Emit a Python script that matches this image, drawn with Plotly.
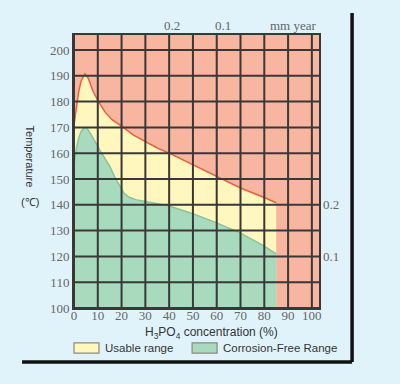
import plotly.graph_objects as go

# ---- data ----
usable_x = [0, 1, 2, 3, 4.6, 6, 8, 10, 13, 16, 20, 25, 30, 35, 40, 50, 60, 70, 80, 85]
usable_y = [171, 178.5, 184, 188, 190.7, 189, 184, 180.5, 176, 173, 170.5, 167, 164.5, 162, 160, 155.5, 150.8, 146.5, 142.8, 140.8]

free_x = [0, 1, 2, 3, 4, 5.3, 7, 9, 11, 13, 15, 17, 19, 21, 23, 26, 30, 40, 50, 60, 70, 80, 85]
free_y = [155, 162, 166, 168.5, 169.6, 170, 167.5, 164, 161, 158, 155, 151, 147.5, 144.5, 143, 142, 141.3, 139.5, 136.5, 133, 129, 124, 121]

x_ticks = [0, 10, 20, 30, 40, 50, 60, 70, 80, 90, 100]
y_ticks = [100, 110, 120, 130, 140, 150, 160, 170, 180, 190, 200]

top_rate_labels = ["0.2", "0.1"]
top_rate_x = [41, 62.5]
right_rate_labels = ["0.2", "0.1"]
right_rate_y = [140, 120]

legend_names = ["Usable range", "Corrosion-Free Range"]

BG = "#e0f3fb"
SALMON = "#f8b5a0"
YELLOW = "#fff7bd"
GREEN = "#a8dbbd"
GRID = "#383838"
SERIF = "Liberation Serif, Times New Roman, serif"
SANS = "Liberation Sans, Arial, sans-serif"

fig = go.Figure()
fig.add_trace(go.Scatter(
    x=usable_x, y=usable_y, mode="lines", fill="tozeroy",
    fillcolor=YELLOW, line=dict(color="#e8603c", width=1.5),
    name=legend_names[0], showlegend=False))
fig.add_trace(go.Scatter(
    x=free_x, y=free_y, mode="lines", fill="tozeroy",
    fillcolor=GREEN, line=dict(color="#8cc29a", width=1.5),
    name=legend_names[1], showlegend=False))

shapes = []
for t in x_ticks:
    shapes.append(dict(type="line", xref="x", yref="paper", x0=t, x1=t, y0=0, y1=1,
                       line=dict(color=GRID, width=2), layer="above"))
for t in y_ticks:
    shapes.append(dict(type="line", xref="paper", yref="y", x0=0, x1=1, y0=t, y1=t,
                       line=dict(color=GRID, width=2), layer="above"))
# outer frame (decorative)
shapes.append(dict(type="line", xref="paper", yref="paper", x0=1.135, x1=1.135, y0=-0.198, y1=1.081,
                   line=dict(color="#111111", width=3.5)))
shapes.append(dict(type="line", xref="paper", yref="paper", x0=-0.212, x1=1.135, y0=-0.198, y1=-0.198,
                   line=dict(color="#111111", width=3.5)))

annotations = []
for lab, xv in zip(top_rate_labels, top_rate_x):
    annotations.append(dict(text=lab, x=xv, xref="x", y=1.033, yref="paper", showarrow=False,
                            font=dict(family=SERIF, size=13, color="#666666"), yanchor="middle"))
annotations.append(dict(text="mm year", x=1.0, xref="paper", y=1.033, yref="paper", showarrow=False,
                        xanchor="right", yanchor="middle",
                        font=dict(family=SERIF, size=13, color="#666666")))
for lab, yv in zip(right_rate_labels, right_rate_y):
    annotations.append(dict(text=lab, x=1.01, xref="paper", y=yv, yref="y", showarrow=False,
                            xanchor="left", yanchor="middle",
                            font=dict(family=SERIF, size=13, color="#666666")))
annotations.append(dict(text="Temperature", x=-0.18, xref="paper", y=0.555, yref="paper", showarrow=False,
                        textangle=90, xanchor="center", yanchor="middle",
                        font=dict(family=SANS, size=11, color="#333333")))
annotations.append(dict(text="(℃)", x=-0.18, xref="paper", y=0.39, yref="paper", showarrow=False,
                        xanchor="center", yanchor="middle",
                        font=dict(family=SANS, size=11, color="#333333")))
annotations.append(dict(text="H<sub>3</sub>PO<sub>4</sub> concentration (%)", x=0.56, xref="paper",
                        y=-0.092, yref="paper", showarrow=False, xanchor="center", yanchor="middle",
                        font=dict(family=SANS, size=12, color="#333333")))

# manual legend (swatches + labels)
legend_colors = [YELLOW, GREEN]
legend_x0 = [0.0, 0.482]
sw_w = 0.102
for name, col, lx in zip(legend_names, legend_colors, legend_x0):
    shapes.append(dict(type="rect", xref="paper", yref="paper", x0=lx, x1=lx + sw_w,
                       y0=-0.165, y1=-0.128, fillcolor=col, line=dict(color="#8a8a7a", width=1.2)))
    annotations.append(dict(text=name, x=lx + sw_w + 0.018, xref="paper", y=-0.147, yref="paper",
                            showarrow=False, xanchor="left", yanchor="middle",
                            font=dict(family=SANS, size=11.5, color="#333333")))

fig.update_layout(
    width=400, height=384,
    margin=dict(l=74, r=81, t=35, b=76, autoexpand=False),
    paper_bgcolor=BG, plot_bgcolor=SALMON,
    shapes=shapes, annotations=annotations,
    showlegend=False,
    xaxis=dict(range=[0, 103], tickvals=x_ticks, showgrid=False, zeroline=False,
               showline=True, mirror=True, linecolor=GRID, linewidth=2, ticks="",
               automargin=False, ticklabelstandoff=-6,
               tickfont=dict(family=SERIF, size=13, color="#666666")),
    yaxis=dict(range=[100, 205.8], tickvals=y_ticks, showgrid=False, zeroline=False,
               showline=True, mirror=True, linecolor=GRID, linewidth=2, ticks="",
               automargin=False,
               tickfont=dict(family=SERIF, size=13, color="#666666")),
)

fig.write_html(
    "out.html",
    config={"displayModeBar": False},
    post_script="document.body.style.margin='0';document.body.style.background='" + BG + "';",
)
